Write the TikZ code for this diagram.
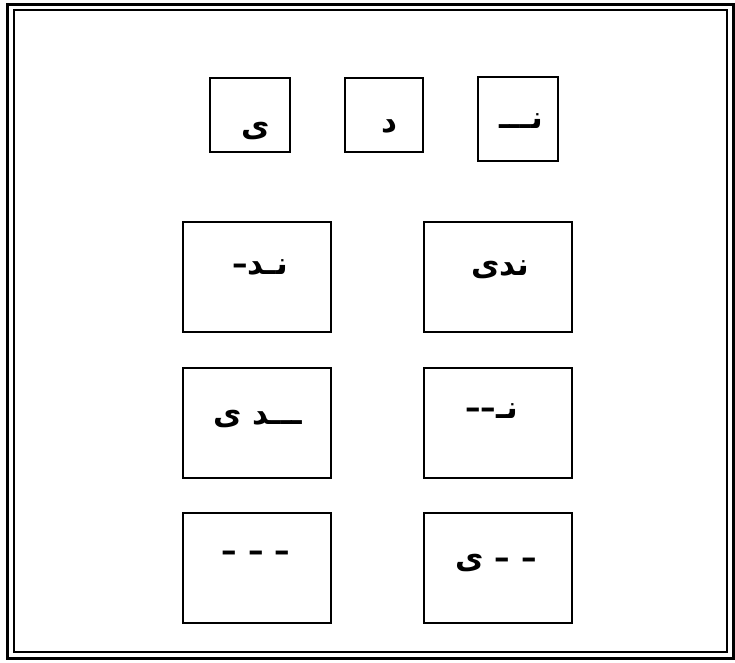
\documentclass[tikz,border=0pt]{standalone}
\usepackage{fontspec}
\newfontfamily\arabicfont[Script=Arabic]{DejaVu Sans Bold}
\TeXXeTstate=1

\tikzset{
    tile/.style={draw, line width=2pt, inner sep=0pt},
    cell/.style={tile, minimum width=148pt, minimum height=110pt},
    word/.style={font=\arabicfont\fontsize{31}{35}\selectfont, inner sep=0pt}
}

\begin{document}
\begin{tikzpicture}[x=1pt,y=-1pt]
    \useasboundingbox (0,0) rectangle (735,662);

    % Double frame
    \draw[line width=3pt] (7,4) rectangle (733,658);
    \draw[line width=2pt] (13.5,10) rectangle (727,652);

    % Letter tiles
    \node[tile, minimum width=80pt, minimum height=74pt] (ya) at (250,115) {};
    \node[tile, minimum width=78pt, minimum height=74pt] (dal) at (384,115) {};
    \node[tile, minimum width=80pt, minimum height=84pt] (nun) at (518,119) {};

    % Word cells
    \foreach \r/\y in {1/277,2/423,3/568} {
        \node[cell] (L\r) at (257,\y) {};
        \node[cell] (R\r) at (497.5,\y) {};
    }

    % Letters
    \node[word] (tya) at (256,131) {\beginR ی\endR};
    \node[word] (tdal) at (389,126) {\beginR د\endR};
    \node[word] (tnun) at (521,121) {\beginR نـــ\endR};

    % Words
    \node[word] (tL1) at (260,267) {\beginR نـد–\endR};
    \node[word] (tR1) at (500,270) {\beginR ندی\endR};
    \node[word] (tL2) at (258,419) {\beginR ـــد ی\endR};
    \node[word] (tR2) at (492,411) {\beginR نـ––\endR};
    \node[word] (tL3) at (256,556) {\beginR – – –\endR};
    \node[word] (tR3) at (496,563) {\beginR – – ی\endR};

\end{tikzpicture}
\end{document}
